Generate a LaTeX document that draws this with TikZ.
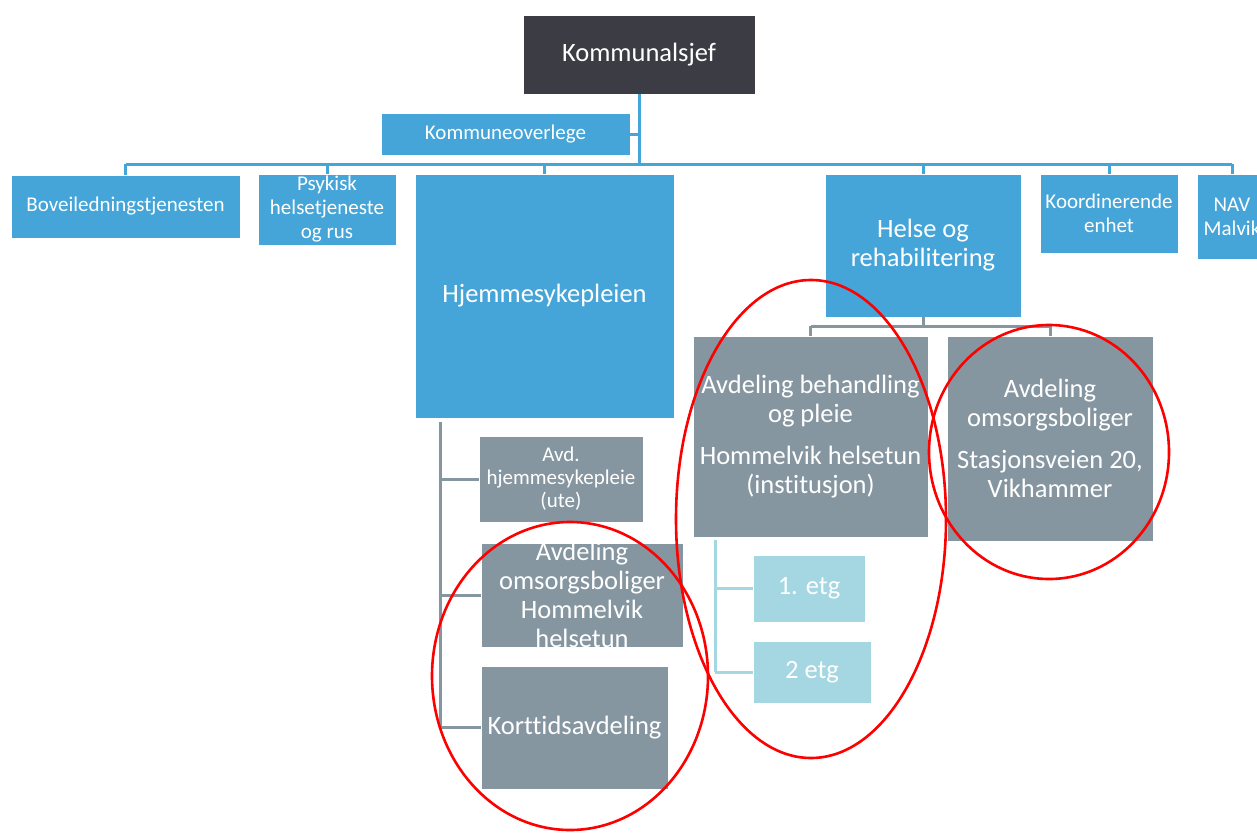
\documentclass[tikz,border=0pt]{standalone}
\usepackage{fontspec}
\setmainfont{Carlito}[Ligatures={NoCommon}]
\definecolor{cblue}{RGB}{69,165,216}
\definecolor{cdark}{RGB}{60,60,68}
\definecolor{cgray}{RGB}{134,150,161}
\definecolor{clight}{RGB}{164,215,225}
\definecolor{cred}{RGB}{255,0,0}
\tikzset{
  base/.style={inner sep=0pt, outer sep=0pt, align=center, text=white, draw=white, line width=0.8pt},
  bigtxt/.style={font=\fontsize{26.5}{29}\selectfont},
  smalltxt/.style={font=\fontsize{21}{24}\selectfont},
  darkbox/.style={base, fill=cdark, bigtxt},
  bluebox/.style={base, fill=cblue},
  graybox/.style={base, fill=cgray},
  lightbox/.style={base, fill=clight, bigtxt},
  plaintxt/.style={inner sep=0pt, align=center, text=white},
  bl/.style={draw=cblue, line width=3pt},
  gl/.style={draw=cgray, line width=3pt},
  ll/.style={draw=clight, line width=3pt},
  redring/.style={draw=cred, line width=2.6pt}
}
\begin{document}
\begin{tikzpicture}[x=1pt,y=-1pt]
\useasboundingbox (0,0) rectangle (1257,832);
\coordinate (bus) at (0,164);
\coordinate (bus2) at (0,326);
\coordinate (hv) at (440,0);
\coordinate (lv) at (715,0);

% nodes
\node[darkbox, minimum width=232pt, minimum height=79pt] (ks) at (639,54.5) {Kommunalsjef};
\node[bluebox, smalltxt, minimum width=249pt, minimum height=42pt] (ko) at (505.5,134) {Kommuneoverlege};
\node[bluebox, smalltxt, minimum width=229pt, minimum height=63pt] (bov) at (125.5,206.5) {Boveiledningstjenesten};
\node[bluebox, smalltxt, minimum width=138pt, minimum height=71pt] (psy) at (327,209.5) {Psykisk\\helsetjeneste\\og rus};
\node[bluebox, bigtxt, minimum width=259pt, minimum height=244pt] (hjs) at (544.5,296) {Hjemmesykepleien};
\node[bluebox, bigtxt, minimum width=196pt, minimum height=143pt] (hr) at (923,245.5) {Helse og\\rehabilitering};
\node[bluebox, smalltxt, minimum width=138pt, minimum height=79pt] (koe) at (1109,213.5) {Koordinerende\\enhet};
\node[bluebox, smalltxt, minimum width=70pt, minimum height=85pt] (nav) at (1232,216.5) {NAV\\Malvik};

\node[graybox, smalltxt, minimum width=164pt, minimum height=86pt] (ahs) at (561,479) {Avd.\\[-1pt]hjemmesykepleie\\[-1pt](ute)};
\node[graybox, minimum width=202pt, minimum height=104pt] (aoh) at (582,595) {};
\node[plaintxt, bigtxt] at (aoh.center) {Avdeling\\omsorgsboliger\\Hommelvik\\helsetun};
\node[graybox, bigtxt, minimum width=187pt, minimum height=123pt] (kta) at (574.5,727.5) {Korttidsavdeling};

\node[graybox, bigtxt, minimum width=235pt, minimum height=201pt] (abp) at (810.5,436.5) {Avdeling behandling\\og pleie\\[13pt]Hommelvik helsetun\\(institusjon)};
\node[graybox, bigtxt, minimum width=206pt, minimum height=205pt] (aos) at (1050,438.5) {Avdeling\\omsorgsboliger\\[13pt]Stasjonsveien 20,\\Vikhammer};

\node[lightbox, minimum width=112pt, minimum height=67pt] (e1) at (809,588.5) {1. etg};
\node[lightbox, minimum width=118pt, minimum height=62pt] (e2) at (812,672) {2 etg};

% top level connectors
\draw[bl] (ks.south) -- (ks.south |- bus);
\draw[bl] (ko.east) -- (ko.east -| ks.south);
\draw[bl] (bov.north |- bus) -- (nav.north |- bus);
\foreach \c in {bov,psy,hjs,hr,koe,nav} {
  \draw[bl] (\c.north) -- (\c.north |- bus);
}
% Helse og rehabilitering subtree
\draw[gl] (hr.south) -- (hr.south |- bus2);
\draw[gl] (abp.north |- bus2) -- (aos.north |- bus2);
\draw[gl] (abp.north) -- (abp.north |- bus2);
\draw[gl] (aos.north) -- (aos.north |- bus2);
% Hjemmesykepleien subtree
\draw[gl] ([yshift=-4pt]hv |- hjs.south) -- (hv |- kta.west);
\draw[gl] (hv |- ahs.west) -- (ahs.west);
\draw[gl] (hv |- aoh.west) -- (aoh.west);
\draw[gl] (hv |- kta.west) -- (kta.west);
% Avdeling behandling subtree
\draw[ll] ([yshift=-3pt]lv |- abp.south) -- (lv |- e2.west);
\draw[ll] (lv |- e1.west) -- (e1.west);
\draw[ll] (lv |- e2.west) -- (e2.west);

% red rings
\draw[redring] (570,676) ellipse [x radius=138pt, y radius=154pt];
\draw[redring] (811,519) ellipse [x radius=135pt, y radius=239pt];
\draw[redring] (1049,452) ellipse [x radius=120pt, y radius=127pt];
\end{tikzpicture}
\end{document}
